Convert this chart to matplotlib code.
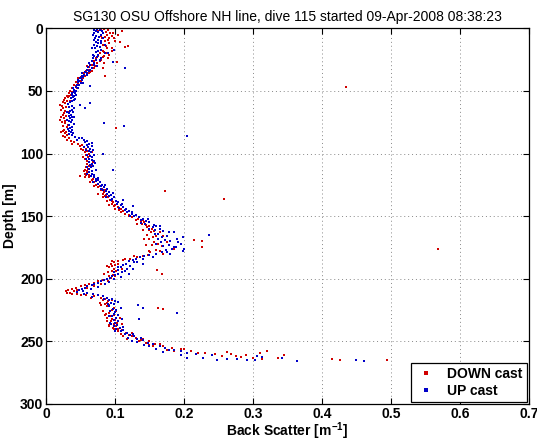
import matplotlib
matplotlib.use('Agg')
import matplotlib.pyplot as plt
import matplotlib.ticker as ticker

plt.rcParams['font.family'] = ['Liberation Sans', 'DejaVu Sans']
plt.rcParams['mathtext.fontset'] = 'custom'
plt.rcParams['mathtext.bf'] = 'Liberation Sans:bold'
plt.rcParams['mathtext.rm'] = 'Liberation Sans:bold'

# DOWN cast (red): depth [m] and back scatter [1/m].
down_depth = [
    0.5, 1.0, 1.5, 2.0, 3.0, 3.5, 4.0, 5.0, 5.5, 6.0,
    7.0, 7.5, 8.0, 9.0, 10.0, 11.0, 12.0, 13.0, 14.0, 15.0,
    16.0, 17.0, 18.0, 19.0, 20.0, 21.0, 22.0, 23.0, 24.0, 25.0,
    26.0, 27.0, 28.0, 29.0, 30.0, 31.0, 32.0, 33.0, 34.0, 35.0,
    36.0, 37.0, 38.0, 39.0, 40.0, 41.0, 42.0, 43.0, 44.0, 45.0,
    46.0, 47.0, 48.0, 49.0, 50.0, 52.0, 53.0, 54.0, 55.0, 56.0,
    57.0, 58.0, 59.0, 60.0, 62.0, 63.0, 64.0, 65.0, 66.0, 68.0,
    69.0, 70.0, 71.0, 72.0, 74.0, 75.0, 76.0, 78.0, 79.0, 80.0,
    81.0, 82.0, 83.0, 84.0, 85.0, 86.0, 87.0, 88.0, 89.0, 90.0,
    91.0, 92.0, 93.0, 94.0, 95.0, 96.0, 97.0, 98.0, 99.0, 100.0,
    101.0, 102.0, 103.0, 104.0, 105.0, 106.0, 107.0, 108.0, 109.0, 110.0,
    111.0, 112.0, 113.0, 114.0, 115.0, 116.0, 117.0, 118.0, 119.0, 120.0,
    121.0, 122.0, 123.0, 124.0, 125.0, 126.0, 127.0, 128.0, 129.0, 130.0,
    131.0, 132.0, 133.0, 134.0, 135.0, 136.0, 137.0, 138.0, 139.0, 140.0,
    141.0, 142.0, 143.0, 144.0, 145.0, 146.0, 147.0, 148.0, 149.0, 150.0,
    151.0, 152.0, 153.0, 154.0, 155.0, 156.0, 157.0, 158.0, 159.0, 160.0,
    161.0, 162.0, 163.0, 164.0, 165.0, 166.0, 167.0, 168.0, 169.0, 170.0,
    171.0, 172.0, 173.0, 174.0, 175.0, 176.0, 177.0, 178.0, 179.0, 180.0,
    181.0, 182.0, 183.0, 184.0, 185.0, 186.0, 187.0, 188.0, 189.0, 190.0,
    191.0, 192.0, 193.0, 194.0, 195.0, 196.0, 197.0, 198.0, 199.0, 200.0,
    201.0, 202.0, 203.0, 204.0, 205.0, 206.0, 207.0, 208.0, 209.0, 210.0,
    211.0, 212.0, 213.0, 214.0, 215.0, 216.0, 217.0, 218.0, 219.0, 220.0,
    221.0, 222.0, 223.0, 224.0, 225.0, 226.0, 227.0, 228.0, 229.0, 230.0,
    231.0, 232.0, 233.0, 234.0, 235.0, 236.0, 237.0, 238.0, 239.0, 240.0,
    241.0, 242.0, 243.0, 244.0, 245.0, 246.0, 247.0, 248.0, 249.0, 250.0,
    251.0, 252.0, 253.0, 254.0, 255.0, 256.0, 257.0, 258.0, 259.0, 260.0,
    257.5, 258.5, 259.5, 260.5, 261.0, 262.0, 263.0, 264.0, 264.5, 265.0,
    261.5, 262.5, 263.5, 259.0, 260.0, 264.0,
    2.0, 4.0, 6.0, 8.0, 10.0, 12.0, 14.0, 16.0, 18.0, 20.0,
    22.0, 24.0, 26.0, 28.0, 30.0, 32.0, 34.0, 36.0, 38.0, 40.0,
    44.0, 48.0, 51.0, 54.0, 58.0, 61.0, 67.0, 73.0, 77.0, 83.0,
    92.0, 96.0, 99.0, 103.0, 107.0, 111.0, 114.0, 117.0, 119.0, 123.0,
    126.0, 129.0, 132.0, 135.0, 138.0, 141.0, 144.0, 147.0, 150.0, 153.0,
    156.0, 158.0, 161.0, 163.0, 166.0, 168.0, 171.0, 173.0, 176.0, 178.0,
    180.0, 182.0, 184.0, 186.0, 188.0, 190.0, 192.0, 194.0, 196.0, 198.0,
    202.0, 204.0, 206.0, 207.0, 208.0, 209.0, 210.0, 211.0, 212.0, 213.0,
    215.0, 217.0, 219.0, 221.0, 223.0, 226.0, 229.0, 231.0, 234.0, 236.0,
    238.0, 240.0, 243.0, 246.0, 248.0, 250.0, 252.0, 254.0, 256.0, 258.0,
]
down_bs = [
    0.084, 0.090, 0.079, 0.110, 0.087, 0.093, 0.082, 0.104, 0.088, 0.095,
    0.086, 0.081, 0.098, 0.090, 0.085, 0.107, 0.092, 0.083, 0.119, 0.114,
    0.088, 0.080, 0.095, 0.084, 0.078, 0.091, 0.076, 0.082, 0.073, 0.080,
    0.070, 0.103, 0.074, 0.066, 0.071, 0.063, 0.083, 0.062, 0.058, 0.064,
    0.055, 0.060, 0.085, 0.051, 0.054, 0.047, 0.050, 0.044, 0.046, 0.041,
    0.043, 0.435, 0.038, 0.040, 0.035, 0.033, 0.036, 0.030, 0.032, 0.028,
    0.026, 0.030, 0.024, 0.027, 0.023, 0.029, 0.025, 0.022, 0.028, 0.026,
    0.024, 0.029, 0.022, 0.026, 0.028, 0.023, 0.027, 0.025, 0.030, 0.101,
    0.026, 0.024, 0.029, 0.027, 0.031, 0.025, 0.028, 0.033, 0.030, 0.036,
    0.040, 0.046, 0.052, 0.049, 0.055, 0.058, 0.053, 0.060, 0.056, 0.062,
    0.058, 0.064, 0.061, 0.057, 0.066, 0.060, 0.063, 0.059, 0.065, 0.062,
    0.058, 0.061, 0.057, 0.059, 0.060, 0.056, 0.058, 0.049, 0.063, 0.068,
    0.066, 0.072, 0.070, 0.075, 0.073, 0.078, 0.076, 0.081, 0.079, 0.172,
    0.084, 0.082, 0.087, 0.085, 0.090, 0.258, 0.093, 0.089, 0.097, 0.095,
    0.100, 0.098, 0.104, 0.109, 0.106, 0.112, 0.118, 0.115, 0.121, 0.128,
    0.125, 0.133, 0.130, 0.137, 0.142, 0.139, 0.145, 0.150, 0.147, 0.153,
    0.149, 0.156, 0.152, 0.158, 0.147, 0.160, 0.155, 0.150, 0.214, 0.226,
    0.156, 0.162, 0.153, 0.168, 0.226, 0.568, 0.159, 0.165, 0.151, 0.160,
    0.148, 0.140, 0.132, 0.122, 0.112, 0.104, 0.098, 0.094, 0.100, 0.096,
    0.092, 0.099, 0.161, 0.095, 0.090, 0.168, 0.097, 0.091, 0.094, 0.088,
    0.083, 0.076, 0.070, 0.063, 0.057, 0.050, 0.044, 0.038, 0.032, 0.029,
    0.035, 0.045, 0.058, 0.070, 0.080, 0.086, 0.082, 0.090, 0.078, 0.085,
    0.092, 0.088, 0.162, 0.170, 0.095, 0.083, 0.091, 0.087, 0.098, 0.093,
    0.089, 0.096, 0.100, 0.094, 0.103, 0.098, 0.092, 0.101, 0.097, 0.105,
    0.110, 0.104, 0.116, 0.108, 0.120, 0.125, 0.130, 0.118, 0.138, 0.135,
    0.145, 0.158, 0.150, 0.170, 0.182, 0.195, 0.175, 0.210, 0.230, 0.245,
    0.320, 0.262, 0.310, 0.290, 0.345, 0.275, 0.300, 0.414, 0.426, 0.495,
    0.255, 0.283, 0.336, 0.220, 0.268, 0.313,
    0.076, 0.097, 0.079, 0.092, 0.100, 0.079, 0.087, 0.096, 0.083, 0.088,
    0.084, 0.090, 0.078, 0.084, 0.060, 0.070, 0.066, 0.062, 0.056, 0.046,
    0.052, 0.045, 0.038, 0.034, 0.035, 0.020, 0.033, 0.020, 0.032, 0.022,
    0.038, 0.050, 0.066, 0.054, 0.068, 0.065, 0.055, 0.062, 0.056, 0.064,
    0.070, 0.086, 0.076, 0.083, 0.096, 0.092, 0.100, 0.108, 0.120, 0.140,
    0.132, 0.160, 0.140, 0.165, 0.170, 0.142, 0.175, 0.145, 0.185, 0.150,
    0.170, 0.128, 0.115, 0.095, 0.105, 0.088, 0.110, 0.102, 0.084, 0.100,
    0.090, 0.080, 0.070, 0.060, 0.052, 0.045, 0.040, 0.030, 0.038, 0.050,
    0.065, 0.095, 0.088, 0.080, 0.098, 0.102, 0.085, 0.107, 0.088, 0.110,
    0.092, 0.098, 0.125, 0.112, 0.140, 0.150, 0.165, 0.155, 0.200, 0.185,
]

# UP cast (blue).
up_depth = [
    0.5, 1.0, 2.0, 2.5, 3.0, 4.0, 5.0, 6.0, 7.0, 8.0,
    9.0, 10.0, 11.0, 12.0, 13.0, 14.0, 15.0, 16.0, 17.0, 18.0,
    19.0, 20.0, 21.0, 22.0, 23.0, 24.0, 25.0, 26.0, 27.0, 28.0,
    29.0, 30.0, 31.0, 32.0, 33.0, 34.0, 35.0, 36.0, 37.0, 38.0,
    39.0, 40.0, 41.0, 42.0, 43.0, 44.0, 45.0, 46.0, 47.0, 48.0,
    49.0, 50.0, 51.0, 52.0, 53.0, 54.0, 55.0, 56.0, 57.0, 58.0,
    59.0, 60.0, 61.0, 62.0, 63.0, 64.0, 65.0, 66.0, 67.0, 68.0,
    69.0, 70.0, 71.0, 72.0, 73.0, 74.0, 75.0, 76.0, 77.0, 78.0,
    79.0, 80.0, 81.0, 82.0, 83.0, 84.0, 85.0, 86.0, 87.0, 88.0,
    89.0, 90.0, 91.0, 92.0, 93.0, 94.0, 95.0, 96.0, 97.0, 98.0,
    99.0, 100.0, 101.0, 102.0, 103.0, 104.0, 105.0, 106.0, 107.0, 108.0,
    109.0, 110.0, 111.0, 112.0, 113.0, 114.0, 115.0, 116.0, 117.0, 118.0,
    119.0, 120.0, 121.0, 122.0, 123.0, 124.0, 125.0, 126.0, 127.0, 128.0,
    129.0, 130.0, 131.0, 132.0, 133.0, 134.0, 135.0, 136.0, 137.0, 138.0,
    139.0, 140.0, 141.0, 142.0, 143.0, 144.0, 145.0, 146.0, 147.0, 148.0,
    149.0, 150.0, 151.0, 152.0, 153.0, 154.0, 155.0, 156.0, 157.0, 158.0,
    159.0, 160.0, 161.0, 162.0, 163.0, 164.0, 165.0, 166.0, 167.0, 168.0,
    169.0, 170.0, 171.0, 172.0, 173.0, 174.0, 175.0, 176.0, 177.0, 178.0,
    179.0, 180.0, 181.0, 182.0, 183.0, 184.0, 185.0, 186.0, 187.0, 188.0,
    189.0, 190.0, 191.0, 192.0, 193.0, 194.0, 195.0, 196.0, 197.0, 198.0,
    199.0, 200.0, 201.0, 202.0, 203.0, 204.0, 205.0, 206.0, 207.0, 208.0,
    209.0, 210.0, 211.0, 212.0, 213.0, 214.0, 215.0, 216.0, 217.0, 218.0,
    219.0, 220.0, 221.0, 222.0, 223.0, 224.0, 225.0, 226.0, 227.0, 228.0,
    229.0, 230.0, 231.0, 232.0, 233.0, 234.0, 235.0, 236.0, 237.0, 238.0,
    239.0, 240.0, 241.0, 242.0, 243.0, 244.0, 245.0, 246.0, 247.0, 248.0,
    249.0, 250.0, 251.0, 252.0, 253.0, 254.0, 255.0, 256.0, 257.0, 258.0,
    259.0, 260.0, 261.0, 262.0, 263.0, 264.0, 264.5, 265.0, 265.5, 266.0,
    263.5, 264.0, 265.0, 262.5, 263.0, 264.5,
    1.5, 3.5, 5.5, 7.5, 9.5, 11.5, 13.5, 15.5, 17.5, 19.5,
    21.5, 23.5, 25.5, 27.5, 29.5, 31.5, 33.5, 35.5, 37.5, 39.5,
    41.5, 43.5, 45.5, 47.5, 51.5, 53.5, 56.5, 60.5, 63.5, 66.5,
    70.5, 73.5, 76.5, 80.5, 84.5, 87.5, 89.5, 91.5, 94.5, 97.5,
    101.5, 104.5, 107.5, 110.5, 113.5, 116.5, 119.5, 122.5, 125.5, 128.5,
    131.5, 134.5, 137.5, 140.5, 143.5, 146.5, 149.5, 152.5, 155.5, 157.5,
    160.5, 162.5, 164.5, 166.5, 168.5, 170.5, 172.5, 174.5, 176.5, 178.5,
    180.5, 182.5, 184.5, 186.5, 188.5, 190.5, 192.5, 194.5, 196.5, 198.5,
    200.5, 202.5, 204.5, 206.5, 208.5, 210.5, 212.5, 214.5, 216.5, 218.5,
    220.5, 223.5, 226.5, 229.5, 232.5, 235.5, 238.5, 241.5, 244.5, 247.5,
    250.5, 253.5, 256.5, 258.5, 260.5,
]
up_bs = [
    0.074, 0.078, 0.072, 0.081, 0.076, 0.070, 0.079, 0.073, 0.077, 0.071,
    0.075, 0.080, 0.072, 0.076, 0.069, 0.074, 0.078, 0.071, 0.098, 0.075,
    0.072, 0.085, 0.076, 0.070, 0.074, 0.068, 0.072, 0.066, 0.097, 0.069,
    0.064, 0.074, 0.061, 0.114, 0.059, 0.062, 0.057, 0.060, 0.055, 0.052,
    0.054, 0.050, 0.052, 0.048, 0.047, 0.050, 0.045, 0.064, 0.043, 0.046,
    0.041, 0.044, 0.040, 0.042, 0.038, 0.041, 0.039, 0.036, 0.040, 0.037,
    0.035, 0.064, 0.049, 0.038, 0.034, 0.056, 0.037, 0.035, 0.039, 0.033,
    0.036, 0.034, 0.038, 0.035, 0.037, 0.033, 0.036, 0.084, 0.034, 0.113,
    0.037, 0.035, 0.038, 0.034, 0.036, 0.039, 0.037, 0.205, 0.042, 0.048,
    0.055, 0.060, 0.057, 0.063, 0.059, 0.066, 0.061, 0.064, 0.058, 0.062,
    0.065, 0.083, 0.060, 0.064, 0.067, 0.062, 0.066, 0.069, 0.063, 0.067,
    0.064, 0.068, 0.065, 0.062, 0.097, 0.066, 0.063, 0.067, 0.070, 0.065,
    0.069, 0.072, 0.075, 0.073, 0.078, 0.076, 0.081, 0.079, 0.084, 0.088,
    0.083, 0.087, 0.091, 0.089, 0.094, 0.092, 0.098, 0.096, 0.112, 0.101,
    0.105, 0.103, 0.108, 0.126, 0.112, 0.116, 0.114, 0.120, 0.118, 0.125,
    0.130, 0.128, 0.135, 0.140, 0.138, 0.145, 0.150, 0.143, 0.156, 0.160,
    0.155, 0.165, 0.158, 0.170, 0.185, 0.163, 0.236, 0.175, 0.168, 0.190,
    0.172, 0.180, 0.166, 0.195, 0.178, 0.170, 0.188, 0.182, 0.174, 0.198,
    0.168, 0.160, 0.150, 0.142, 0.136, 0.130, 0.126, 0.120, 0.132, 0.116,
    0.112, 0.122, 0.108, 0.118, 0.105, 0.114, 0.110, 0.104, 0.100, 0.096,
    0.093, 0.088, 0.084, 0.080, 0.075, 0.070, 0.066, 0.060, 0.056, 0.052,
    0.048, 0.053, 0.060, 0.068, 0.075, 0.082, 0.088, 0.095, 0.091, 0.100,
    0.094, 0.098, 0.134, 0.092, 0.141, 0.097, 0.102, 0.093, 0.190, 0.099,
    0.104, 0.096, 0.101, 0.135, 0.098, 0.105, 0.100, 0.094, 0.103, 0.099,
    0.107, 0.102, 0.112, 0.108, 0.118, 0.114, 0.122, 0.128, 0.119, 0.132,
    0.140, 0.125, 0.148, 0.155, 0.142, 0.165, 0.172, 0.160, 0.185, 0.196,
    0.205, 0.218, 0.240, 0.306, 0.228, 0.262, 0.248, 0.450, 0.364, 0.461,
    0.204, 0.277, 0.291, 0.313, 0.342, 0.303,
    0.070, 0.082, 0.068, 0.083, 0.070, 0.079, 0.085, 0.067, 0.079, 0.090,
    0.068, 0.080, 0.078, 0.063, 0.070, 0.067, 0.064, 0.052, 0.059, 0.049,
    0.046, 0.053, 0.048, 0.039, 0.037, 0.044, 0.042, 0.032, 0.041, 0.031,
    0.040, 0.031, 0.040, 0.032, 0.034, 0.052, 0.045, 0.066, 0.055, 0.068,
    0.070, 0.058, 0.071, 0.060, 0.072, 0.060, 0.075, 0.068, 0.086, 0.080,
    0.097, 0.087, 0.094, 0.110, 0.106, 0.125, 0.122, 0.148, 0.138, 0.165,
    0.150, 0.178, 0.158, 0.198, 0.162, 0.192, 0.160, 0.185, 0.200, 0.175,
    0.180, 0.155, 0.140, 0.128, 0.140, 0.105, 0.126, 0.098, 0.120, 0.108,
    0.098, 0.092, 0.085, 0.075, 0.065, 0.045, 0.055, 0.066, 0.084, 0.105,
    0.090, 0.108, 0.100, 0.092, 0.110, 0.093, 0.112, 0.100, 0.126, 0.138,
    0.132, 0.150, 0.178, 0.170, 0.195,
]

assert len(down_depth) == len(down_bs)
assert len(up_depth) == len(up_bs)

title = 'SG130 OSU Offshore NH line, dive 115 started 09-Apr-2008 08:38:23'

fig = plt.figure(figsize=(5.37, 4.42), dpi=100)
ax = fig.add_axes([0.0857, 0.0860, 0.899, 0.850])

ax.plot(down_bs, down_depth, linestyle='none', marker='s', markersize=2.1,
        markeredgewidth=0, color='#d00000', label='DOWN cast')
ax.plot(up_bs, up_depth, linestyle='none', marker='s', markersize=2.1,
        markeredgewidth=0, color='#0000c8', label='UP cast')

ax.set_xlim(0, 0.7)
ax.set_ylim(300, 0)
ax.xaxis.set_major_locator(ticker.MultipleLocator(0.1))
ax.yaxis.set_major_locator(ticker.MultipleLocator(50))
ax.xaxis.set_major_formatter(ticker.FuncFormatter(lambda v, p: '%g' % round(v, 2)))

# MATLAB-ish look: dotted grid, ticks inside on every side.
ax.grid(True, linestyle=(0, (1, 3)), color='#888888', linewidth=0.7)
ax.tick_params(direction='in', top=True, right=True, length=4, width=0.8,
               labelsize=10, pad=2)
for lbl in ax.get_xticklabels() + ax.get_yticklabels():
    lbl.set_fontweight('bold')
for s in ax.spines.values():
    s.set_linewidth(0.9)

ax.set_title(title, fontsize=10, pad=5)
ax.set_xlabel(r'Back Scatter [m$^{\mathbf{-1}}$]', fontsize=10, fontweight='bold', labelpad=0)
ax.set_ylabel('Depth [m]', fontsize=10, fontweight='bold', labelpad=2)

leg = ax.legend(loc='lower right', prop={'weight': 'bold', 'size': 10},
                fancybox=False, framealpha=1, edgecolor='black',
                markerscale=1.2, handlelength=1.5, borderpad=0.3,
                labelspacing=0.2, borderaxespad=0.15)
leg.get_frame().set_linewidth(0.9)

fig.savefig('out.png', dpi=100)
